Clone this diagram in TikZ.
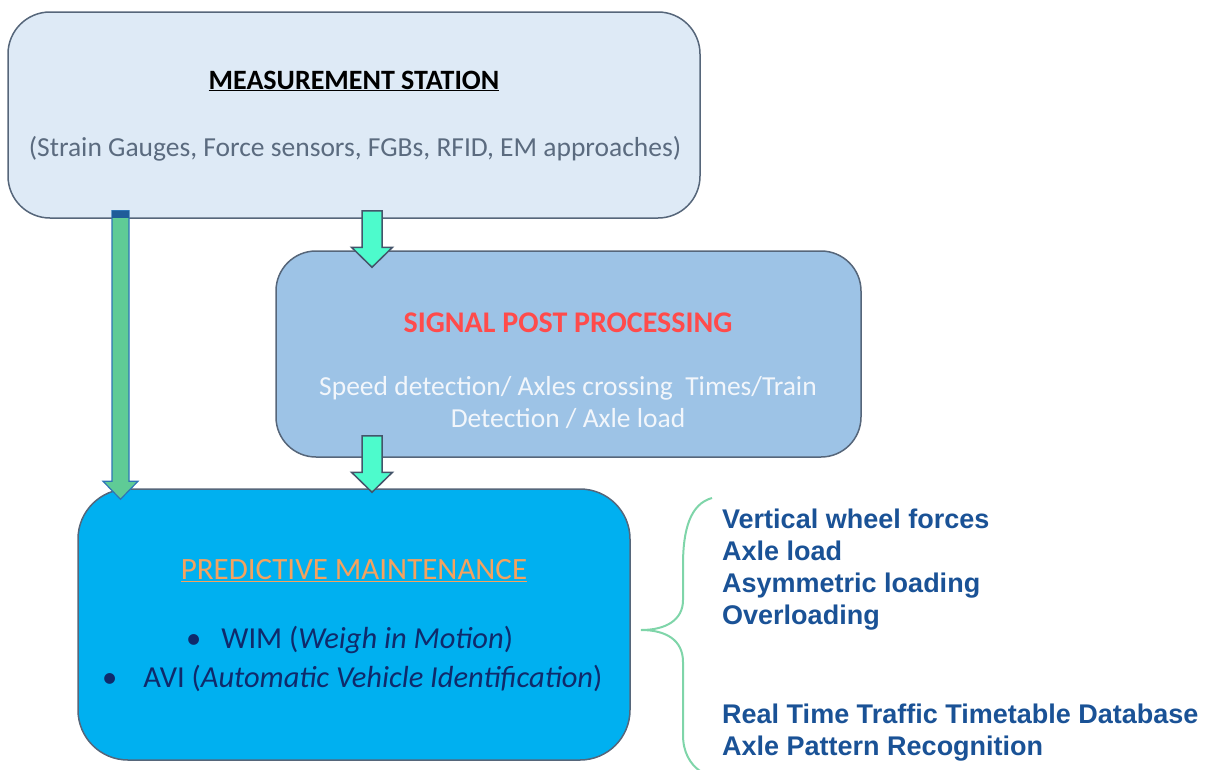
\documentclass[tikz,border=0pt]{standalone}
\usepackage{fontspec}
\setmainfont{Carlito}
\newfontfamily\arialf{Liberation Sans}
\usetikzlibrary{calc}
\definecolor{msfill}{HTML}{DEEAF6}
\definecolor{spfill}{HTML}{9DC3E6}
\definecolor{pmfill}{HTML}{00B0F0}
\definecolor{boxline}{HTML}{56667A}
\definecolor{greytext}{HTML}{5B6B7F}
\definecolor{redtext}{HTML}{FF4B4B}
\definecolor{orangetext}{HTML}{F5A25E}
\definecolor{navytext}{HTML}{0F2A6B}
\definecolor{listblue}{HTML}{1A5296}
\definecolor{greenarrow}{HTML}{5FCB96}
\definecolor{greenedge}{HTML}{2E75B6}
\definecolor{capblue}{HTML}{1F5C99}
\definecolor{aquaarrow}{HTML}{4DFBCC}
\definecolor{aquaedge}{HTML}{44546A}
\definecolor{bracegreen}{HTML}{7FD5A9}
\definecolor{whitetext}{HTML}{F2F6FB}
\newcommand\blockarrow[6]{%
  \path[#1] let \p1=#2, \p2=#3 in
    (\x1-#4pt,\y1) -- (\x1+#4pt,\y1) -- (\x1+#4pt,\y2+#6pt) -- (\x1+#5pt,\y2+#6pt)
    -- (\x1,\y2) -- (\x1-#5pt,\y2+#6pt) -- (\x1-#4pt,\y2+#6pt) -- cycle;}
\tikzset{
  box/.style={draw=boxline, line width=1.5pt, inner sep=0pt},
  greenar/.style={fill=greenarrow, draw=greenedge, line width=1.2pt, line join=miter},
  aquaar/.style={fill=aquaarrow, draw=aquaedge, line width=1.5pt, line join=miter},
  body/.style={font=\fontsize{27.5}{32}\selectfont, inner sep=0pt},
  bul/.style={font=\fontsize{30.5}{36}\selectfont, inner sep=0pt, text=navytext, anchor=west},
  listtxt/.style={font=\arialf\bfseries\fontsize{27}{32}\selectfont, text=listblue, align=left, inner sep=0pt, anchor=west},
}
\begin{document}
\begin{tikzpicture}[x=1pt,y=-1pt]
\useasboundingbox (0,0) rectangle (1210,769);
% boxes
\node[box, fill=msfill, rounded corners=42pt, minimum width=692pt, minimum height=206pt] (ms) at (354,115) {};
\node[box, fill=spfill, rounded corners=40pt, minimum width=585pt, minimum height=206pt] (sp) at (568.5,354) {};
\node[box, fill=pmfill, rounded corners=50pt, minimum width=552pt, minimum height=271pt] (pm) at (354,624.5) {};
% arrows
\coordinate (L) at (120.5,0);
\coordinate (M) at (372,0);
\blockarrow{greenar}{($(ms.south -| L)+(0,-8)$)}{($(pm.north -| L)+(0,11)$)}{8.5}{17.5}{18}
\fill[capblue] ($(ms.south -| L)+(-8.5,-8)$) rectangle ($(ms.south -| L)+(8.5,-1)$);
\blockarrow{aquaar}{($(ms.south -| M)+(0,-8)$)}{($(sp.north -| M)+(0,17)$)}{10}{20.5}{20}
\blockarrow{aquaar}{($(sp.south -| M)+(0,-22)$)}{($(pm.north -| M)+(0,4)$)}{10}{20.5}{20}
% texts
\node[body, font=\bfseries\fontsize{28}{32}\selectfont] (msh) at (354,81) {\underline{MEASUREMENT STATION}};
\node[body, text=greytext] (mst) at (355,149) {(Strain Gauges, Force sensors, FGBs, RFID, EM approaches)};
\node[body, text=redtext, font=\bfseries\fontsize{30}{34}\selectfont] (sph) at (568,323) {SIGNAL POST PROCESSING};
\node[body, text=whitetext, align=center] (spt) at (568,403) {Speed detection/ Axles crossing\ \ Times/Train\\Detection / Axle load};
\node[body, text=orangetext, font=\fontsize{31}{36}\selectfont] (pmh) at (354,571) {\underline{PREDICTIVE MAINTENANCE}};
\node[bul] (b1) at (186,640) {\textbullet\hspace{20pt}WIM (\textit{Weigh in Motion})};
\node[bul] (b2) at (102,678) {\textbullet\hspace{26pt}AVI (\textit{Automatic Vehicle Identification})};
% brace
\draw[bracegreen, line width=2pt] (712,498) .. controls (690,504) and (683,530) .. (683,565) -- (683,600)
  .. controls (683,620) and (666,630) .. (641,630)
  .. controls (666,630) and (683,640) .. (683,662) -- (683,735)
  .. controls (683,752) and (690,764) .. (700,771);
% list
\node[listtxt] (l1) at (722,570) {Vertical wheel forces\\Axle load\\Asymmetric loading\\Overloading};
\node[listtxt] (l2) at (722,733) {Real Time Traffic Timetable Database\\Axle Pattern Recognition};
\end{tikzpicture}
\end{document}
